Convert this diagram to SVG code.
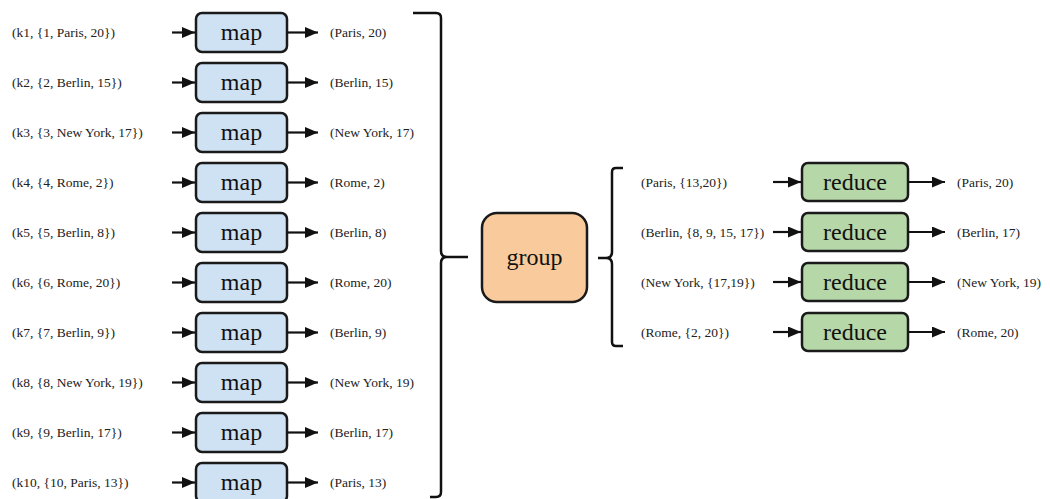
<svg xmlns="http://www.w3.org/2000/svg" width="1050" height="499" viewBox="0 0 1050 499">
  <defs>
    <marker id="head" viewBox="0 0 13 11" refX="13" refY="5.5" markerWidth="13" markerHeight="11" markerUnits="userSpaceOnUse" orient="auto">
      <path d="M0,0 L13,5.5 L0,11 Z" fill="#111"/>
    </marker>
    <style>
      .lbl { font-family: "Liberation Serif", "Times New Roman", serif; font-size: 13.5px; fill: #222; }
      .op { font-family: "Liberation Serif", "Times New Roman", serif; font-size: 24px; fill: #111; text-anchor: middle; }
      .box { stroke: #1a1a1a; stroke-width: 2.5; }
      .map { fill: #cfe2f3; }
      .reduce { fill: #b6d7a8; }
      .group { fill: #f9cb9c; }
      .arrow { stroke: #111; stroke-width: 2.2; fill: none; marker-end: url(#head); }
      .brace { stroke: #111; stroke-width: 2.5; fill: none; }
    </style>
  </defs>
  <rect width="1050" height="499" fill="#ffffff"/>

  <!-- map stage -->
  <g id="map1"><text class="lbl" x="12" y="37">(k1, {1, Paris, 20})</text><rect class="box map" x="196" y="13" width="91" height="39" rx="6"/><text class="op" x="241.5" y="40">map</text><text class="lbl" x="330" y="37">(Paris, 20)</text></g>
  <g id="map2"><text class="lbl" x="12" y="87">(k2, {2, Berlin, 15})</text><rect class="box map" x="196" y="63" width="91" height="39" rx="6"/><text class="op" x="241.5" y="90">map</text><text class="lbl" x="330" y="87">(Berlin, 15)</text></g>
  <g id="map3"><text class="lbl" x="12" y="137">(k3, {3, New York, 17})</text><rect class="box map" x="196" y="113" width="91" height="39" rx="6"/><text class="op" x="241.5" y="140">map</text><text class="lbl" x="330" y="137">(New York, 17)</text></g>
  <g id="map4"><text class="lbl" x="12" y="187">(k4, {4, Rome, 2})</text><rect class="box map" x="196" y="163" width="91" height="39" rx="6"/><text class="op" x="241.5" y="190">map</text><text class="lbl" x="330" y="187">(Rome, 2)</text></g>
  <g id="map5"><text class="lbl" x="12" y="237">(k5, {5, Berlin, 8})</text><rect class="box map" x="196" y="213" width="91" height="39" rx="6"/><text class="op" x="241.5" y="240">map</text><text class="lbl" x="330" y="237">(Berlin, 8)</text></g>
  <g id="map6"><text class="lbl" x="12" y="287">(k6, {6, Rome, 20})</text><rect class="box map" x="196" y="263" width="91" height="39" rx="6"/><text class="op" x="241.5" y="290">map</text><text class="lbl" x="330" y="287">(Rome, 20)</text></g>
  <g id="map7"><text class="lbl" x="12" y="337">(k7, {7, Berlin, 9})</text><rect class="box map" x="196" y="313" width="91" height="39" rx="6"/><text class="op" x="241.5" y="340">map</text><text class="lbl" x="330" y="337">(Berlin, 9)</text></g>
  <g id="map8"><text class="lbl" x="12" y="387">(k8, {8, New York, 19})</text><rect class="box map" x="196" y="363" width="91" height="39" rx="6"/><text class="op" x="241.5" y="390">map</text><text class="lbl" x="330" y="387">(New York, 19)</text></g>
  <g id="map9"><text class="lbl" x="12" y="437">(k9, {9, Berlin, 17})</text><rect class="box map" x="196" y="413" width="91" height="39" rx="6"/><text class="op" x="241.5" y="440">map</text><text class="lbl" x="330" y="437">(Berlin, 17)</text></g>
  <g id="map10"><text class="lbl" x="12" y="487">(k10, {10, Paris, 13})</text><rect class="box map" x="196" y="463" width="91" height="39" rx="6"/><text class="op" x="241.5" y="490">map</text><text class="lbl" x="330" y="487">(Paris, 13)</text></g>

  <!-- group stage -->
  <g id="group">
    <rect class="box group" x="482" y="213" width="105" height="89" rx="15"/>
    <text class="op" x="534.5" y="265">group</text>
  </g>

  <!-- reduce stage -->
  <g id="reduce1"><text class="lbl" x="641" y="187">(Paris, {13,20})</text><rect class="box reduce" x="802" y="163" width="106" height="38" rx="6"/><text class="op" x="855" y="190">reduce</text><text class="lbl" x="957" y="187">(Paris, 20)</text></g>
  <g id="reduce2"><text class="lbl" x="641" y="237">(Berlin, {8, 9, 15, 17})</text><rect class="box reduce" x="802" y="213" width="106" height="38" rx="6"/><text class="op" x="855" y="240">reduce</text><text class="lbl" x="957" y="237">(Berlin, 17)</text></g>
  <g id="reduce3"><text class="lbl" x="641" y="287">(New York, {17,19})</text><rect class="box reduce" x="802" y="263" width="106" height="38" rx="6"/><text class="op" x="855" y="290">reduce</text><text class="lbl" x="957" y="287">(New York, 19)</text></g>
  <g id="reduce4"><text class="lbl" x="641" y="337">(Rome, {2, 20})</text><rect class="box reduce" x="802" y="313" width="106" height="38" rx="6"/><text class="op" x="855" y="340">reduce</text><text class="lbl" x="957" y="337">(Rome, 20)</text></g>

  <!-- connectors -->
  <g id="connectors">
    <path class="arrow" d="M172,32.5 H195"/><path class="arrow" d="M287,32.5 H318"/>
    <path class="arrow" d="M172,82.5 H195"/><path class="arrow" d="M287,82.5 H318"/>
    <path class="arrow" d="M172,132.5 H195"/><path class="arrow" d="M287,132.5 H318"/>
    <path class="arrow" d="M172,182.5 H195"/><path class="arrow" d="M287,182.5 H318"/>
    <path class="arrow" d="M172,232.5 H195"/><path class="arrow" d="M287,232.5 H318"/>
    <path class="arrow" d="M172,282.5 H195"/><path class="arrow" d="M287,282.5 H318"/>
    <path class="arrow" d="M172,332.5 H195"/><path class="arrow" d="M287,332.5 H318"/>
    <path class="arrow" d="M172,382.5 H195"/><path class="arrow" d="M287,382.5 H318"/>
    <path class="arrow" d="M172,432.5 H195"/><path class="arrow" d="M287,432.5 H318"/>
    <path class="arrow" d="M172,482.5 H195"/><path class="arrow" d="M287,482.5 H318"/>

    <path class="arrow" d="M773,182 H801"/><path class="arrow" d="M908,182 H945"/>
    <path class="arrow" d="M773,232 H801"/><path class="arrow" d="M908,232 H945"/>
    <path class="arrow" d="M773,282 H801"/><path class="arrow" d="M908,282 H945"/>
    <path class="arrow" d="M773,332 H801"/><path class="arrow" d="M908,332 H945"/>

    <!-- brace gathering the map outputs into group -->
    <path class="brace" d="M413,13 H436 Q441,13 441,18 V251 Q441,257 447,257 H468 M447,257 Q441,257 441,263 V492 Q441,497 436,497 H430"/>
    <!-- bracket fanning group out to the reducers -->
    <path class="brace" d="M623,168 H616 Q612,168 612,172 V252 Q612,258 606,258 H598 M606,258 Q612,258 612,264 V342 Q612,346 616,346 H623"/>
  </g>
</svg>
